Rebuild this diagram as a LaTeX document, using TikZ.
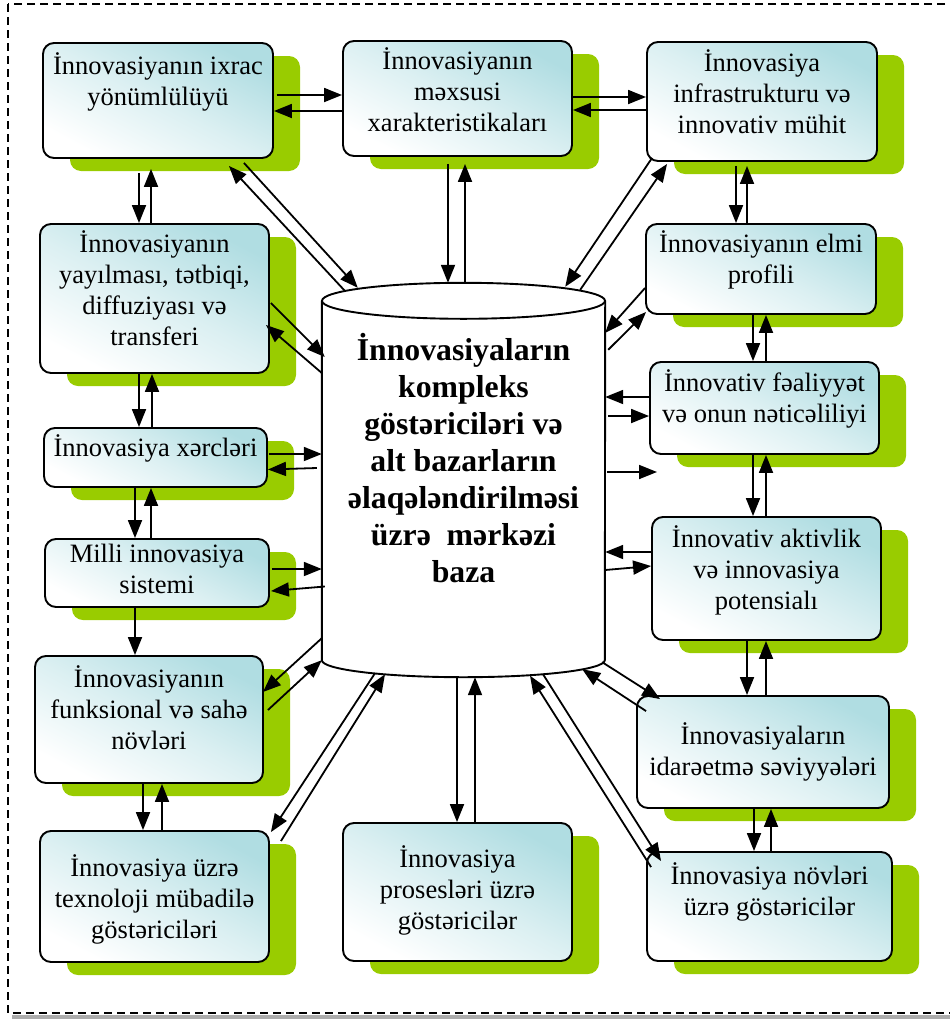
\documentclass[tikz,border=0pt]{standalone}
\usepackage{fontspec}
\setmainfont{Liberation Serif}
\usetikzlibrary{calc,fit,shadows,arrows.meta,positioning}
\definecolor{boxteal}{RGB}{176,221,226}
\definecolor{shgreen}{RGB}{153,204,0}

\begin{document}
\begin{tikzpicture}[x=1pt,y=-1pt,
  ibox/.style={draw, line width=1.9pt, rounded corners=11pt, inner sep=0pt,
    top color=boxteal, bottom color=white, middle color=white!55!boxteal, shading angle=-28,
    drop shadow={shadow xshift=27pt, shadow yshift=-13pt, fill=shgreen, opacity=1}},
  itext/.style={anchor=north, inner sep=0pt, align=center, font=\fontsize{26.5}{31}\selectfont},
  btext/.style={anchor=north, inner sep=0pt, align=center, font=\fontsize{31.75}{37}\selectfont\bfseries},
  arr/.style={line width=1.8pt, -{Triangle[length=18pt,width=14pt]}},
  cyl/.style={line width=1.9pt}]

\useasboundingbox (0,0) rectangle (950,1023);
\clip (0,0) rectangle (950,1023);

% frame
\draw[gray!65, line width=3.5pt] (12,1017) -- (958,1017);
\draw[line width=1.6pt, dash pattern=on 8pt off 5pt] (8,4) rectangle (956,1013);

% left column
\node[ibox, fit={(43,43) (273,158)}] (exp) {};
\node[itext] (exp-t) at ($(exp.north)+(0,10)$) {İnnovasiyanın ixrac\\ yönümlülüyü};

\node[ibox, fit={(40,224) (269,373)}] (yay) {};
\node[itext] (yay-t) at ($(yay.north)+(0,7)$) {İnnovasiyanın\\ yayılması, tətbiqi,\\ diffuziyası və\\ transferi};

\node[ibox, fit={(44,428) (267,487)}] (xer) {};
\node[itext] (xer-t) at ($(xer.north)+(0,7)$) {İnnovasiya xərcləri};

\node[ibox, fit={(45,539) (269,607)}] (mil) {};
\node[itext] (mil-t) at ($(mil.north)+(0,6)$) {Milli innovasiya\\ sistemi};

\node[ibox, fit={(35,656) (263,783)}] (fun) {};
\node[itext] (fun-t) at ($(fun.north)+(0,10)$) {İnnovasiyanın\\ funksional və sahə\\ növləri};

\node[ibox, fit={(40,831) (269,962)}] (tex) {};
\node[itext] (tex-t) at ($(tex.north)+(0,24)$) {İnnovasiya üzrə\\ texnoloji mübadilə\\ göstəriciləri};

% middle column
\node[ibox, fit={(343,41) (572,156)}] (mxs) {};
\node[itext] (mxs-t) at ($(mxs.north)+(0,7)$) {İnnovasiyanın\\ məxsusi\\ xarakteristikaları};

\node[ibox, fit={(343,823) (572,961)}] (pro) {};
\node[itext] (pro-t) at ($(pro.north)+(0,23)$) {İnnovasiya\\ prosesləri üzrə\\ göstəricilər};

% right column
\node[ibox, fit={(647,42) (877,161)}] (inf) {};
\node[itext] (inf-t) at ($(inf.north)+(0,8)$) {İnnovasiya\\ infrastrukturu və\\ innovativ mühit};

\node[ibox, fit={(646,224) (876,314)}] (elm) {};
\node[itext] (elm-t) at ($(elm.north)+(0,7)$) {İnnovasiyanın elmi\\ profili};

\node[ibox, fit={(650,362) (879,454)}] (fea) {};
\node[itext] (fea-t) at ($(fea.north)+(0,8)$) {İnnovativ fəaliyyət\\ və onun nəticəliliyi};

\node[ibox, fit={(652,517) (881,640)}] (akt) {};
\node[itext] (akt-t) at ($(akt.north)+(0,9)$) {İnnovativ aktivlik\\ və innovasiya\\ potensialı};

\node[ibox, fit={(637,696) (889,808)}] (ida) {};
\node[itext] (ida-t) at ($(ida.north)+(0,27)$) {İnnovasiyaların\\ idarəetmə səviyyələri};

\node[ibox, fit={(647,852) (892,961)}] (nov) {};
\node[itext] (nov-t) at ($(nov.north)+(0,11)$) {İnnovasiya növləri\\ üzrə göstəricilər};

% central base
\node[inner sep=0pt, fit={(322,301) (605,660)}] (base) {};
\draw[cyl, fill=white] (base.north west) -- (base.south west) arc[start angle=180, end angle=360, x radius=141.5pt, y radius=17pt] -- (base.north east);
\draw[cyl] (base.north) ellipse[x radius=141.5pt, y radius=18pt];
\node[btext] (base-t) at ($(base.north)+(0,32)$) {İnnovasiyaların\\ kompleks\\ göstəriciləri və\\ alt bazarların\\ əlaqələndirilməsi\\ üzrə\ \ mərkəzi\\ baza};
\coordinate (gap) at (657,472);

% top row
\draw[arr] ($(exp.east)+(3,-5.5)$) -- ($(mxs.west)+(0,-3.5)$);
\draw[arr] ($(mxs.west)+(0,12.5)$) -- ($(exp.east)+(0,10.5)$);
\draw[arr] ($(mxs.east)+(0,-1.5)$) -- ($(inf.west)+(0,-4.5)$);
\draw[arr] ($(inf.west)+(0,8.5)$) -- ($(mxs.east)+(0,11.5)$);

% left column links
\draw[arr] ($(exp.south)+(-19,14)$) -- ($(yay.north)+(-15.5,0)$);
\draw[arr] ($(yay.north)+(-3.5,0)$) -- ($(exp.south)+(-7,10)$);
\draw[arr] ($(yay.south)+(-15.5,0)$) -- ($(xer.north)+(-16.5,0)$);
\draw[arr] ($(xer.north)+(-3.5,0)$) -- ($(yay.south)+(-2.5,0)$);
\draw[arr] ($(xer.south)+(-20.5,0)$) -- ($(mil.north)+(-22,0)$);
\draw[arr] ($(mil.north)+(-6,0)$) -- ($(xer.south)+(-4.5,0)$);
\draw[arr] ($(mil.south)+(-22,0)$) -- ($(fun.north)+(-14,0)$);
\draw[arr] ($(fun.south)+(-6,0)$) -- ($(tex.north)+(-11.5,0)$);
\draw[arr] ($(tex.north)+(7.5,0)$) -- ($(fun.south)+(13,0)$);

% right column links
\draw[arr] ($(inf.south)+(-26,4)$) -- ($(elm.north)+(-25,0)$);
\draw[arr] ($(elm.north)+(-14,0)$) -- ($(inf.south)+(-15,4)$);
\draw[arr] ($(elm.south)+(-8,0)$) -- ($(fea.north)+(-11.5,0)$);
\draw[arr] ($(fea.north)+(1.5,0)$) -- ($(elm.south)+(5,0)$);
\draw[arr] ($(fea.south)+(-11.5,0)$) -- ($(akt.north)+(-13.5,0)$);
\draw[arr] ($(akt.north)+(-0.5,0)$) -- ($(fea.south)+(1.5,0)$);
\draw[arr] ($(akt.south)+(-19.5,0)$) -- ($(ida.north)+(-16,0)$);
\draw[arr] ($(ida.north)+(3,0)$) -- ($(akt.south)+(-0.5,0)$);
\draw[arr] ($(ida.south)+(-9,0)$) -- ($(nov.north)+(-15.5,0)$);
\draw[arr] ($(nov.north)+(1.5,0)$) -- ($(ida.south)+(8,0)$);

% to and from the base
\draw[arr] ($(exp.south east)+(-30,4)$) -- ($(base.north west)+(36,-13)$);
\draw[arr] ($(base.north west)+(23,-10)$) -- ($(exp.south east)+(-45,7)$);
\draw[arr] ($(mxs.south)+(-9.5,7)$) -- ($(base.north)+(-15.5,-18)$);
\draw[arr] ($(base.north)+(1.5,-18)$) -- ($(mxs.south)+(7.5,7)$);
\draw[arr] ($(inf.south west)+(6,-4)$) -- ($(base.north east)+(-40,-14)$);
\draw[arr] ($(base.north east)+(-25,-11)$) -- ($(inf.south west)+(21,2)$);
\draw[arr] ($(elm.west)+(0,19)$) -- ($(base.north east)+(0,32)$);
\draw[arr] ($(base.north east)+(3,49)$) -- ($(elm.west)+(1,43)$);
\draw[arr] ($(fea.west)+(0,-11)$) -- ($(base.east)+(0,-83.5)$);
\draw[arr] ($(base.east)+(3,-64.5)$) -- ($(fea.west)+(0,8)$);
\draw[arr] ($(base.east)+(2,-8.5)$) -- (gap);
\draw[arr] ($(akt.west)+(0,-26.5)$) -- ($(base.east)+(0,71.5)$);
\draw[arr] ($(base.east)+(0,89.5)$) -- ($(akt.west)+(0,-12.5)$);
\draw[arr] ($(base.south east)+(-3,2)$) -- ($(ida.north west)+(24,4)$);
\draw[arr] ($(ida.north west)+(10,16)$) -- ($(base.south east)+(-23,9)$);
\draw[arr] ($(base.south)+(79.5,14)$) -- ($(nov.north west)+(15,10)$);
\draw[arr] ($(nov.north west)+(5,16)$) -- ($(base.south)+(66.5,15.5)$);
\draw[arr] ($(base.south)+(-6.5,17)$) -- ($(pro.north)+(-0.5,0)$);
\draw[arr] ($(pro.north)+(17.5,0)$) -- ($(base.south)+(11.5,17)$);
\draw[arr] ($(base.south)+(-88.5,13)$) -- ($(tex.north east)+(1,2)$);
\draw[arr] ($(tex.north east)+(11,11)$) -- ($(base.south)+(-78.5,14)$);
\draw[arr] ($(base.south west)+(0,-22)$) -- ($(fun.east)+(-1,-27.5)$);
\draw[arr] ($(fun.east)+(4,-9.5)$) -- (base.south west);
\draw[arr] ($(mil.east)+(2,-4)$) -- ($(base.west)+(0,88.5)$);
\draw[arr] ($(base.west)+(3,106)$) -- ($(mil.east)+(1,18)$);
\draw[arr] ($(xer.east)+(1,-3.5)$) -- ($(base.west)+(0,-26.5)$);
\draw[arr] ($(base.west)+(-5,-12.5)$) -- ($(xer.east)+(0,12)$);
\draw[arr] ($(yay.east)+(1,4.5)$) -- ($(base.west)+(3,-123.5)$);
\draw[arr] ($(base.west)+(0,-107.5)$) -- ($(yay.east)+(-4,26.5)$);
\end{tikzpicture}
\end{document}
